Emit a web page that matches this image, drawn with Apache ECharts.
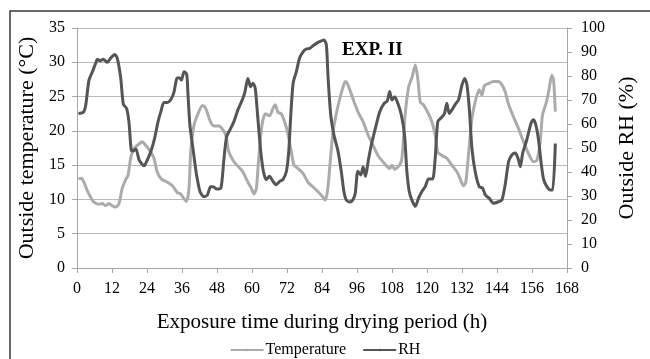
<!DOCTYPE html>
<html>
<head>
<meta charset="utf-8">
<script src="https://cdn.jsdelivr.net/npm/echarts@6/dist/echarts.min.js"></script>
<style>
  html, body { margin: 0; padding: 0; background: #fff; }
  #chart { width: 650px; height: 359px; }
</style>
</head>
<body>
<div id="chart"></div>
<script>
// Outside conditions during the drying period, experiment II
const xTicks = [0, 12, 24, 36, 48, 60, 72, 84, 96, 108, 120, 132, 144, 156, 168];

const tempHours = [0.5, 1.5, 2.4, 3.5, 4.7, 5.8, 7.5, 8.7, 9.8, 11, 12, 13.3, 14.4, 15.5, 16.7, 17.5, 18.4, 19.5, 21.3, 22.4, 23.5, 24.7, 26.4, 27.5, 28.9, 31, 32.7, 34.4, 35.5, 36.7, 37.5, 38.4, 39, 40.1, 41.5, 43, 44, 45.8, 47, 48.7, 49.8, 51, 52, 53.8, 55.5, 56.9, 58.6, 59.8, 60.7, 61.5, 62.3, 63.4, 64.6, 66, 67.2, 68, 68.9, 70, 71.2, 72.3, 73.5, 74.4, 75.8, 77.5, 79.2, 81.5, 83.8, 85.1, 86, 87, 87.8, 88.9, 90, 91.2, 92, 92.9, 94.6, 96.3, 98.1, 99.8, 101.5, 103.2, 105.5, 107.2, 108, 108.9, 110.6, 111.4, 112.5, 113.7, 114.8, 116, 116.9, 117.7, 118.8, 120.5, 121.7, 122.8, 123.7, 125.1, 126.8, 128.5, 130.3, 131.4, 132.5, 133.3, 134.3, 135.4, 136.5, 137.9, 138.8, 139.7, 141.1, 142.8, 144.5, 145.7, 146.8, 148, 149.7, 151.4, 153.1, 154.8, 156.5, 157.7, 158.8, 159.6, 160.8, 161.7, 162.8, 163.4, 164];
const tempValues = [13.0, 13.1, 12.5, 11.3, 10.3, 9.6, 9.3, 9.4, 9.1, 9.4, 9.1, 8.9, 9.4, 11.6, 12.9, 13.5, 16, 17.4, 18.1, 18.4, 17.9, 17.3, 16, 14, 13, 12.5, 12, 11, 10.8, 10.1, 9.7, 11.6, 17, 20.8, 22.5, 23.7, 23.4, 21.3, 20.7, 20.7, 20.3, 19.4, 17, 15.5, 14.7, 14, 12.5, 11.6, 10.8, 11.6, 16, 20.8, 22.5, 22.2, 23.3, 23.8, 22.7, 22.5, 21.3, 19.6, 16.9, 15, 14.5, 13.8, 12.5, 11.6, 10.6, 9.9, 11.6, 16.4, 19.9, 22.5, 24.5, 26.4, 27.2, 26.7, 24.7, 22.8, 21.3, 19.4, 17.9, 16.4, 15.2, 14.5, 15, 14.4, 15, 16, 22.3, 26.4, 27.7, 29.6, 27.4, 24.2, 23.8, 22.5, 21.3, 19.4, 16.9, 16.4, 16, 15, 14, 13, 12, 12.5, 16.9, 21.8, 24.2, 26, 25.2, 26.6, 26.9, 27.2, 27.2, 26.7, 25.7, 23.8, 22, 20.3, 18.4, 16.7, 15.5, 15.7, 18.4, 22.3, 24, 25.7, 28.1, 27.4, 22.8];

const rhHours = [0.5, 2.2, 3, 4.1, 5.3, 6.4, 7, 7.9, 9, 10.4, 11.5, 12.9, 13.8, 15, 15.9, 17, 17.8, 18.6, 19.3, 20.2, 21.3, 23, 24.1, 25.5, 26.6, 27.8, 28.9, 29.8, 31, 32.3, 33.3, 34.2, 35, 35.8, 36.7, 37.6, 38, 38.7, 39.9, 41, 42.2, 43.5, 44.7, 45.8, 46.7, 47.9, 49.3, 50.4, 51.3, 52.7, 53.8, 55.2, 56.3, 57.5, 58.6, 59.5, 60.3, 61.1, 62, 63, 63.9, 64.9, 66, 67.2, 68.3, 69.5, 70.6, 71.8, 72.6, 73.3, 74.1, 75.2, 76.3, 77.5, 78.6, 79.8, 80.9, 82.1, 83.2, 84.7, 85.5, 86.1, 87, 88.1, 89.5, 90.6, 91.5, 92.3, 93.5, 94.6, 95.4, 96.3, 97.3, 98.1, 98.9, 99.8, 100.9, 102.3, 103.8, 105.3, 106.4, 107.2, 108, 108.9, 110, 111.2, 112.3, 113.1, 113.9, 114.8, 116, 117.1, 118.3, 119.4, 120.5, 121.9, 122.8, 123.7, 124.9, 126, 126.8, 127.6, 128.5, 129.7, 130.8, 132, 132.9, 133.7, 134.5, 135.4, 136.5, 137.9, 139.1, 140, 141.3, 142.8, 144.5, 145.7, 146.8, 148, 149.1, 150.3, 151.2, 152, 152.8, 153.9, 154.8, 155.7, 156.5, 157.3, 158.3, 159.2, 160, 161.1, 162.3, 163.1, 164];
const rhValues = [64.4, 64.9, 67.9, 78.3, 81.8, 85.3, 87, 86.3, 87, 85.7, 87.4, 89, 87.4, 79, 68.2, 66.5, 61, 49.2, 48.8, 49.6, 45, 42.6, 45, 49.2, 54, 61, 65.8, 69, 69, 70.4, 73.5, 79, 79.3, 78.3, 81.8, 80.7, 73.5, 59.6, 48.5, 38.8, 31.8, 29.7, 30.4, 33.9, 33.9, 32.9, 33.2, 45.7, 54.7, 58.2, 61, 66, 69, 73, 79, 75.5, 77, 74.9, 62.4, 48.6, 40.3, 36.8, 38.2, 36.1, 34.7, 36.1, 36.8, 40.3, 48.6, 63.75, 77, 81.8, 87.4, 90.1, 91.25, 91.5, 92.6, 93.6, 94.3, 95, 92.9, 79, 63.75, 55.4, 48.6, 40.3, 32, 28.4, 27.5, 28.4, 31.1, 40.3, 38.8, 42.2, 38.1, 44.3, 51.25, 58.2, 65.1, 68.6, 69.6, 73.5, 70, 71.4, 68.6, 63.75, 55.4, 40.3, 32, 28.4, 25.7, 29.1, 32, 33.9, 37.1, 37.1, 45.7, 61, 62.6, 64.4, 68.6, 64.4, 65.8, 68.2, 70, 76.25, 79, 76.25, 66.5, 49.9, 40.3, 33.9, 33.2, 30.4, 29.1, 27, 27.6, 28.4, 34.7, 44.4, 47.1, 47.9, 45.7, 42.2, 47.9, 52.1, 56.25, 60.4, 61.8, 59.7, 52.8, 43.1, 36.8, 33.9, 32.5, 32.5, 51.9];

const pair = (xs, ys) => xs.map((x, i) => [x, ys[i]]);

const serif = 'Liberation Serif';
const axisGray = '#a6a6a6';

const chart = echarts.init(document.getElementById('chart'), null, { renderer: 'canvas' });

chart.setOption({
  backgroundColor: '#ffffff',
  animation: false,
  textStyle: { fontFamily: serif, color: '#000' },
  graphic: [{
    type: 'rect',
    silent: true,
    shape: { x: 10, y: 11, width: 700, height: 400 },
    style: { fill: 'none', stroke: '#3a3a3a', lineWidth: 1.5 }
  }],
  title: {
    text: 'EXP. II',
    left: 337,
    top: 36,
    textStyle: { fontFamily: serif, fontWeight: 'bold', fontSize: 19, color: '#000' }
  },
  grid: { left: 77, right: 83, top: 28, bottom: 91, containLabel: false },
  legend: {
    top: 337,
    left: 'center',
    itemWidth: 33,
    itemHeight: 3,
    itemGap: 16,
    textStyle: { fontFamily: serif, fontSize: 16, color: '#000', padding: [0, 0, 0, -3] },
    data: ['Temperature', 'RH']
  },
  xAxis: {
    type: 'value',
    min: 0,
    max: 168,
    interval: 12,
    name: 'Exposure time during drying period (h)',
    nameLocation: 'middle',
    nameGap: 44,
    nameTextStyle: { fontFamily: serif, fontSize: 21, color: '#000' },
    axisLine: { lineStyle: { color: axisGray, width: 1 } },
    axisTick: { show: true, length: 5, lineStyle: { color: axisGray } },
    axisLabel: {
      fontFamily: serif, fontSize: 16, color: '#000', margin: 13,
      formatter: v => (xTicks.indexOf(v) >= 0 ? String(v) : '')
    },
    splitLine: { show: false }
  },
  yAxis: [{
    type: 'value',
    min: 0,
    max: 35,
    interval: 5,
    name: 'Outside temperature (°C)',
    nameLocation: 'middle',
    nameGap: 38,
    nameTextStyle: { fontFamily: serif, fontSize: 22, color: '#000' },
    axisLine: { show: true, lineStyle: { color: axisGray, width: 1 } },
    axisTick: { show: true, length: 5, lineStyle: { color: axisGray } },
    axisLabel: { fontFamily: serif, fontSize: 16, color: '#000', margin: 12 },
    splitLine: { show: true, lineStyle: { color: '#b9b9b9', width: 1.2 } }
  }, {
    type: 'value',
    position: 'right',
    min: 0,
    max: 100,
    interval: 10,
    name: 'Outside RH (%)',
    nameLocation: 'middle',
    nameGap: 43,
    nameTextStyle: { fontFamily: serif, fontSize: 22, color: '#000' },
    axisLine: { show: true, lineStyle: { color: axisGray, width: 1 } },
    axisTick: { show: true, length: 5, lineStyle: { color: axisGray } },
    axisLabel: { fontFamily: serif, fontSize: 16, color: '#000', margin: 14 },
    splitLine: { show: false }
  }],
  series: [{
    name: 'Temperature',
    type: 'line',
    yAxisIndex: 0,
    symbol: 'none',
    smooth: 0.25,
    lineStyle: { color: '#ababab', width: 3 },
    itemStyle: { color: '#ababab' },
    data: pair(tempHours, tempValues)
  }, {
    name: 'RH',
    type: 'line',
    yAxisIndex: 1,
    symbol: 'none',
    smooth: 0.25,
    lineStyle: { color: '#555555', width: 3 },
    itemStyle: { color: '#555555' },
    z: 3,
    data: pair(rhHours, rhValues)
  }]
});
</script>
</body>
</html>
